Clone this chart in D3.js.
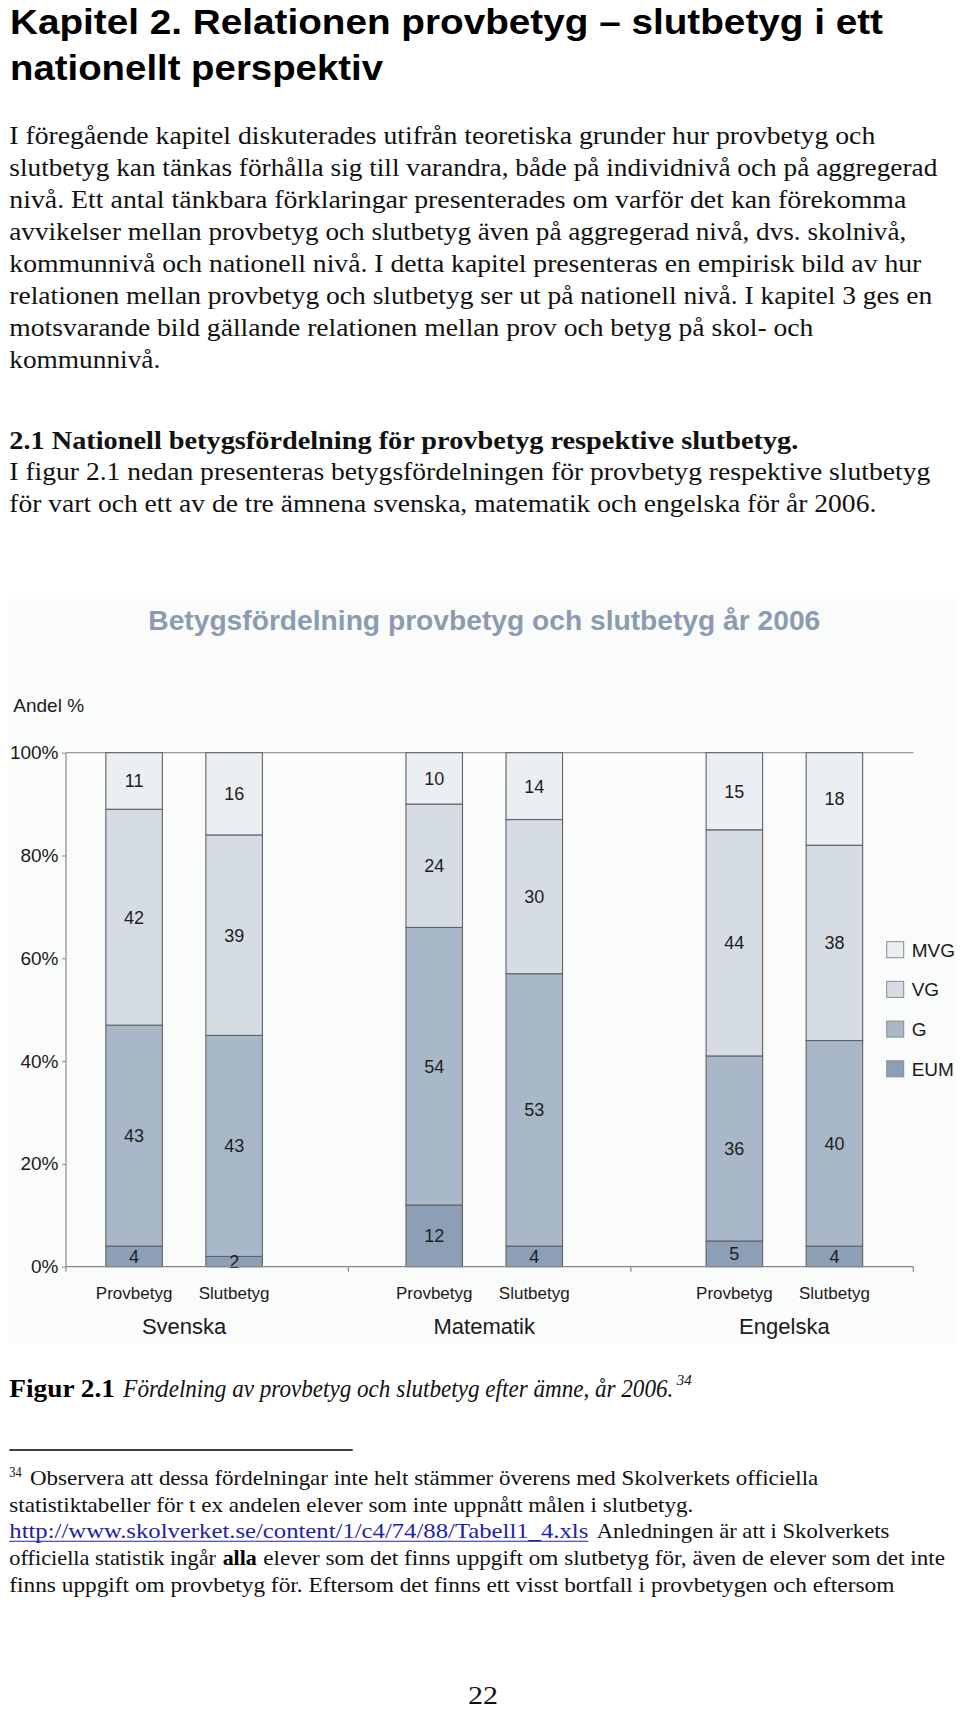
<!DOCTYPE html>
<html><head><meta charset="utf-8">
<script src="https://cdn.jsdelivr.net/npm/d3@7"></script>
<style>html,body{margin:0;padding:0;background:#fff;} svg{display:block;}</style>
</head><body><svg id="page" width="960" height="1712"></svg>
<script>
// ---------- data ----------
const subjects = ["Svenska", "Matematik", "Engelska"];
const gradeTypes = ["Provbetyg", "Slutbetyg"];
const grades = ["EUM", "G", "VG", "MVG"];
const valuesEUM = [4, 2, 12, 4, 5, 4];
const valuesG   = [43, 43, 54, 53, 36, 40];
const valuesVG  = [42, 39, 24, 30, 44, 38];
const valuesMVG = [11, 16, 10, 14, 15, 18];
const yTickValues = [0, 20, 40, 60, 80, 100];
const legendOrder = ["MVG", "VG", "G", "EUM"];
const chartTitle = "Betygsfördelning provbetyg och slutbetyg år 2006";
const yAxisTitle = "Andel %";

// ---------- page text ----------
const svg = d3.select("#page");
const SERIF = "'Liberation Serif', 'Times New Roman', serif";
const SANS = "'Liberation Sans', Arial, sans-serif";
const HEAD = "'Liberation Sans Narrow', 'Liberation Sans', Arial, sans-serif";

function txt(str, x, y, o = {}) {
  const t = svg.append("text")
    .attr("x", x).attr("y", y)
    .attr("font-family", o.family || SERIF)
    .attr("font-size", o.size || 26)
    .attr("font-weight", o.weight || "normal")
    .attr("font-style", o.style || "normal")
    .attr("fill", o.fill || "#111")
    .text(str);
  if (o.anchor) t.attr("text-anchor", o.anchor);
  if (o.width) t.attr("textLength", o.width).attr("lengthAdjust", "spacingAndGlyphs");
  return t;
}

// Chapter title
txt("Kapitel 2. Relationen provbetyg – slutbetyg i ett", 10, 33.5, {family: HEAD, size: 35, weight: "bold", fill: "#000", width: 873});
txt("nationellt perspektiv", 10, 80, {family: HEAD, size: 35, weight: "bold", fill: "#000", width: 373});

// Body paragraph
const para = [
  ["I föregående kapitel diskuterades utifrån teoretiska grunder hur provbetyg och", 866],
  ["slutbetyg kan tänkas förhålla sig till varandra, både på individnivå och på aggregerad", 928],
  ["nivå. Ett antal tänkbara förklaringar presenterades om varför det kan förekomma", 897],
  ["avvikelser mellan provbetyg och slutbetyg även på aggregerad nivå, dvs. skolnivå,", 897],
  ["kommunnivå och nationell nivå. I detta kapitel presenteras en empirisk bild av hur", 912],
  ["relationen mellan provbetyg och slutbetyg ser ut på nationell nivå. I kapitel 3 ges en", 923],
  ["motsvarande bild gällande relationen mellan prov och betyg på skol- och", 804],
  ["kommunnivå.", 151]
];
para.forEach((p, i) => txt(p[0], 9.3, 143.5 + i * 32.1, {size: 26, width: p[1]}));

txt("2.1 Nationell betygsfördelning för provbetyg respektive slutbetyg.", 9.3, 448.5, {size: 26, weight: "bold", width: 789});
txt("I figur 2.1 nedan presenteras betygsfördelningen för provbetyg respektive slutbetyg", 9.3, 480.3, {size: 26, width: 921});
txt("för vart och ett av de tre ämnena svenska, matematik och engelska för år 2006.", 9.3, 512, {size: 26, width: 867});

// ---------- chart ----------
svg.append("rect").attr("x", 9).attr("y", 599).attr("width", 947).attr("height", 744).attr("fill", "#fafbfb");

const rows = [];
subjects.forEach((s, i) => gradeTypes.forEach((t, j) => {
  const k = i * 2 + j;
  rows.push({subject: s, type: t, slot: i * 3 + j,
    EUM: valuesEUM[k], G: valuesG[k], VG: valuesVG[k], MVG: valuesMVG[k]});
}));
const series = d3.stack().keys(grades)(rows);

const y = d3.scaleLinear().domain([0, 100]).range([1266.7, 752.7]).clamp(true);
const xSlot = d3.scaleLinear().domain([0, 7]).range([134.1, 834.4]);
const xGroup = d3.scaleBand().domain(subjects).range([66, 913.3]);
const barW = 56.5;
const color = d3.scaleOrdinal().domain(grades).range(["#8d9fb4", "#a9b8c8", "#d6dce4", "#ebeef2"]);

// chart title
txt(chartTitle, 148.3, 629.5, {family: SANS, size: 27.5, weight: "bold", fill: "#8b9bb0", width: 672});
txt(yAxisTitle, 13.3, 711.7, {family: SANS, size: 19, fill: "#1a1a1a"});

// top 100% line
svg.append("line").attr("x1", xGroup.range()[0]).attr("x2", xGroup.range()[1])
  .attr("y1", y(100)).attr("y2", y(100)).attr("stroke", "#9a9a9a").attr("stroke-width", 1.2);

// bars
const g = svg.append("g");
series.forEach(layer => {
  g.selectAll(null).data(layer).enter().append("rect")
    .attr("x", d => xSlot(d.data.slot) - barW / 2)
    .attr("y", d => y(d[1]))
    .attr("width", barW)
    .attr("height", d => y(d[0]) - y(d[1]))
    .attr("fill", color(layer.key))
    .attr("stroke", "#626262")
    .attr("stroke-width", 1.1);
});
series.forEach(layer => {
  g.selectAll(null).data(layer).enter().append("text")
    .attr("x", d => xSlot(d.data.slot))
    .attr("y", d => (y(d[0]) + y(d[1])) / 2)
    .attr("dy", "0.36em")
    .attr("text-anchor", "middle")
    .attr("font-family", SANS).attr("font-size", 18).attr("fill", "#1e1e1e")
    .text(d => d.data[layer.key]);
});

// y axis
const yAxis = svg.append("g").attr("transform", `translate(${xGroup.range()[0]},0)`)
  .call(d3.axisLeft(y).tickValues(yTickValues).tickFormat(d => d + "%").tickSize(4).tickPadding(3.5));
yAxis.select(".domain").remove();
yAxis.selectAll(".tick line").attr("stroke", "#888");
yAxis.selectAll(".tick text").attr("font-family", SANS).attr("font-size", 19).attr("fill", "#1a1a1a");
svg.append("line").attr("x1", xGroup.range()[0]).attr("x2", xGroup.range()[0])
  .attr("y1", y(100)).attr("y2", y(0) + 5).attr("stroke", "#8a8a8a").attr("stroke-width", 1.2);

// x axis
svg.append("line").attr("x1", xGroup.range()[0]).attr("x2", xGroup.range()[1])
  .attr("y1", y(0)).attr("y2", y(0)).attr("stroke", "#8a8a8a").attr("stroke-width", 1.2);
const edges = subjects.map(s => xGroup(s)).concat([xGroup.range()[1]]);
svg.selectAll(null).data(edges.slice(1)).enter().append("line")
  .attr("x1", d => d).attr("x2", d => d).attr("y1", y(0)).attr("y2", y(0) + 5)
  .attr("stroke", "#8a8a8a").attr("stroke-width", 1.2);

// category labels
svg.selectAll(null).data(rows).enter().append("text")
  .attr("x", d => xSlot(d.slot)).attr("y", 1299)
  .attr("text-anchor", "middle").attr("font-family", SANS).attr("font-size", 17).attr("fill", "#1a1a1a")
  .text(d => d.type);
svg.selectAll(null).data(subjects).enter().append("text")
  .attr("x", (d, i) => xSlot(i * 3 + 0.5)).attr("y", 1333.5)
  .attr("text-anchor", "middle").attr("font-family", SANS).attr("font-size", 22).attr("fill", "#1a1a1a")
  .text(d => d);

// legend
const leg = svg.append("g");
legendOrder.forEach((k, i) => {
  const top = 941.7 + i * 39.7;
  leg.append("rect").attr("x", 886.7).attr("y", top).attr("width", 17).attr("height", 16)
    .attr("fill", color(k)).attr("stroke", "#8a8a8a").attr("stroke-width", 1);
  leg.append("text").attr("x", 911.7).attr("y", top + 15)
    .attr("font-family", SANS).attr("font-size", 19).attr("fill", "#1a1a1a").text(k);
});

// ---------- caption & footnote ----------
txt("Figur 2.1", 9.3, 1397, {size: 26, weight: "bold", width: 105.7, fill: "#000"});
txt("Fördelning av provbetyg och slutbetyg efter ämne, år 2006.", 123.3, 1397, {size: 26, style: "italic", width: 550});
txt("34", 676.7, 1385, {size: 15, style: "italic", width: 15});

svg.append("line").attr("x1", 9.3).attr("x2", 352.7).attr("y1", 1450).attr("y2", 1450)
  .attr("stroke", "#000").attr("stroke-width", 1.3);

txt("34", 9.3, 1477, {size: 14, width: 12.4});
txt("Observera att dessa fördelningar inte helt stämmer överens med Skolverkets officiella", 30, 1485, {size: 21.5, width: 788.3});
txt("statistiktabeller för t ex  andelen elever som inte uppnått målen i slutbetyg.", 9.3, 1511.7, {size: 21.5, width: 684});
txt("http://www.skolverket.se/content/1/c4/74/88/Tabell1_4.xls", 9.3, 1538.3, {size: 21.5, width: 579, fill: "#1f22a8"});
svg.append("line").attr("x1", 9.3).attr("x2", 588.3).attr("y1", 1541.3).attr("y2", 1541.3)
  .attr("stroke", "#1f22a8").attr("stroke-width", 1.1);
txt("Anledningen är att i Skolverkets", 596.7, 1538.3, {size: 21.5, width: 292.6});
txt("officiella statistik ingår", 9.3, 1565, {size: 21.5, width: 206.7});
txt("alla", 222.7, 1565, {size: 21.5, weight: "bold", width: 34, fill: "#000"});
txt("elever som det finns uppgift om slutbetyg för, även de elever som det inte", 263.3, 1565, {size: 21.5, width: 681.7});
txt("finns uppgift om provbetyg för. Eftersom det finns ett visst bortfall i provbetygen och eftersom", 9.3, 1591.7, {size: 21.5, width: 885});

txt("22", 468, 1704, {size: 25, width: 30});
</script>
</body></html>
